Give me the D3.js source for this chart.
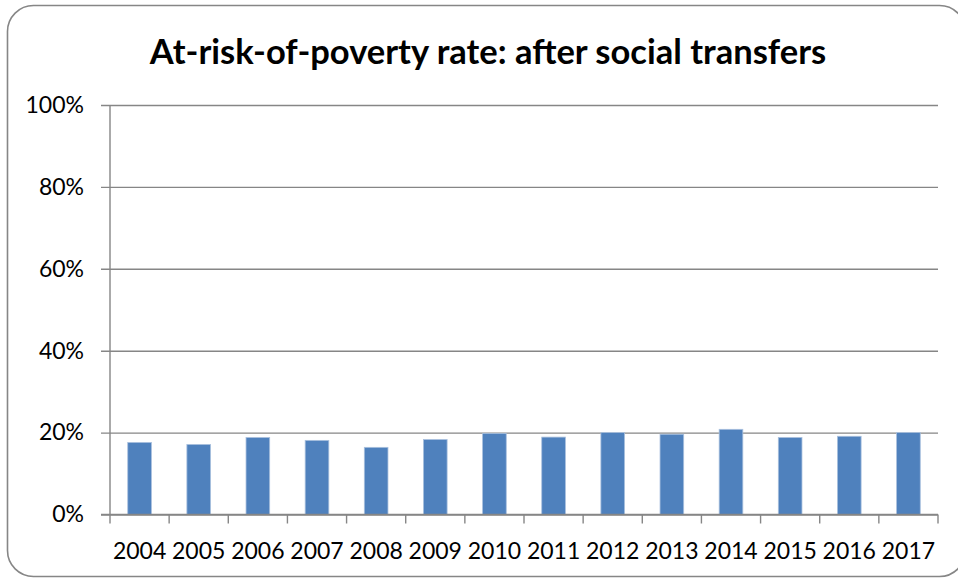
<!DOCTYPE html>
<html>
<head>
<meta charset="utf-8">
<script src="https://cdn.jsdelivr.net/npm/d3@7"></script>
<style>
  html, body { margin: 0; padding: 0; background: #fff; }
  svg { display: block; }
  text { font-family: Lato, "Open Sans", sans-serif; fill: #000; }
</style>
</head>
<body>
<svg id="chart" width="958" height="579"></svg>
<script>
// At-risk-of-poverty rate after social transfers, per year (%)
const years = ["2004", "2005", "2006", "2007", "2008", "2009", "2010",
               "2011", "2012", "2013", "2014", "2015", "2016", "2017"];
const rates = [17.6, 17.1, 18.8, 18.1, 16.4, 18.3, 19.8,
               18.9, 20.0, 19.6, 20.8, 18.8, 19.1, 20.0];
const yTicks = [0, 20, 40, 60, 80, 100];
const titleText = "At-risk-of-poverty rate: after social transfers";

const margin = { top: 105, left: 110 };
const plotW = 938 - margin.left;
const plotH = 514.5 - margin.top;

const svg = d3.select("#chart");

// outer chart frame with rounded corners
svg.append("rect")
  .attr("x", 7.5).attr("y", 5.5)
  .attr("width", 958).attr("height", 571)
  .attr("rx", 26).attr("ry", 26)
  .attr("fill", "#fff")
  .attr("stroke", "#868686")
  .attr("stroke-width", 1.6);

svg.append("text")
  .attr("x", 488).attr("y", 64)
  .attr("text-anchor", "middle")
  .style("font-weight", "bold")
  .style("font-size", "34.5px")
  .text(titleText);

const g = svg.append("g").attr("transform", `translate(${margin.left},${margin.top})`);

const x = d3.scaleBand().domain(years).range([0, plotW]).paddingInner(0.6).paddingOuter(0.3);
const xTicksScale = d3.scaleBand().domain(years).range([0, plotW]);
const y = d3.scaleLinear().domain([0, 100]).range([plotH, 0]);

// horizontal gridlines with outward ticks on the left
const yAxis = d3.axisLeft(y).tickValues(yTicks).tickFormat(d => d + "%")
  .tickSize(-plotW).tickSizeOuter(0).tickPadding(26);
const gy = g.append("g").call(yAxis);
gy.select(".domain").remove();
gy.selectAll(".tick line")
  .attr("x1", -9)
  .attr("stroke", "#868686").attr("stroke-width", 1.4);
gy.selectAll(".tick text").style("font-size", "23px");

// vertical axis line
g.append("line")
  .attr("x1", 0).attr("x2", 0).attr("y1", 0).attr("y2", plotH)
  .attr("stroke", "#868686").attr("stroke-width", 1.4);

// bars
g.selectAll("rect.bar")
  .data(years.map((yr, i) => ({ yr, v: rates[i] })))
  .join("rect")
  .attr("class", "bar")
  .attr("x", d => x(d.yr))
  .attr("y", d => y(d.v))
  .attr("width", x.bandwidth())
  .attr("height", d => plotH - y(d.v))
  .attr("fill", "#4F81BD")
  .attr("stroke", "#A9C0DE")
  .attr("stroke-width", 0.8);

// category axis: tick marks at band boundaries, labels centered
const gx = g.append("g").attr("transform", `translate(0,${plotH})`);
gx.append("line")
  .attr("x1", -9).attr("x2", plotW)
  .attr("stroke", "#868686").attr("stroke-width", 1.4);
const bounds = years.map(yr => xTicksScale(yr)).concat([plotW]);
gx.selectAll("line.tk")
  .data(bounds)
  .join("line")
  .attr("class", "tk")
  .attr("x1", d => d).attr("x2", d => d)
  .attr("y1", 0).attr("y2", 9)
  .attr("stroke", "#868686").attr("stroke-width", 1.4);
gx.selectAll("text.lbl")
  .data(years)
  .join("text")
  .attr("class", "lbl")
  .attr("x", d => xTicksScale(d) + xTicksScale.bandwidth() / 2)
  .attr("y", 44)
  .attr("text-anchor", "middle")
  .style("font-size", "23px")
  .text(d => d);
</script>
</body>
</html>
